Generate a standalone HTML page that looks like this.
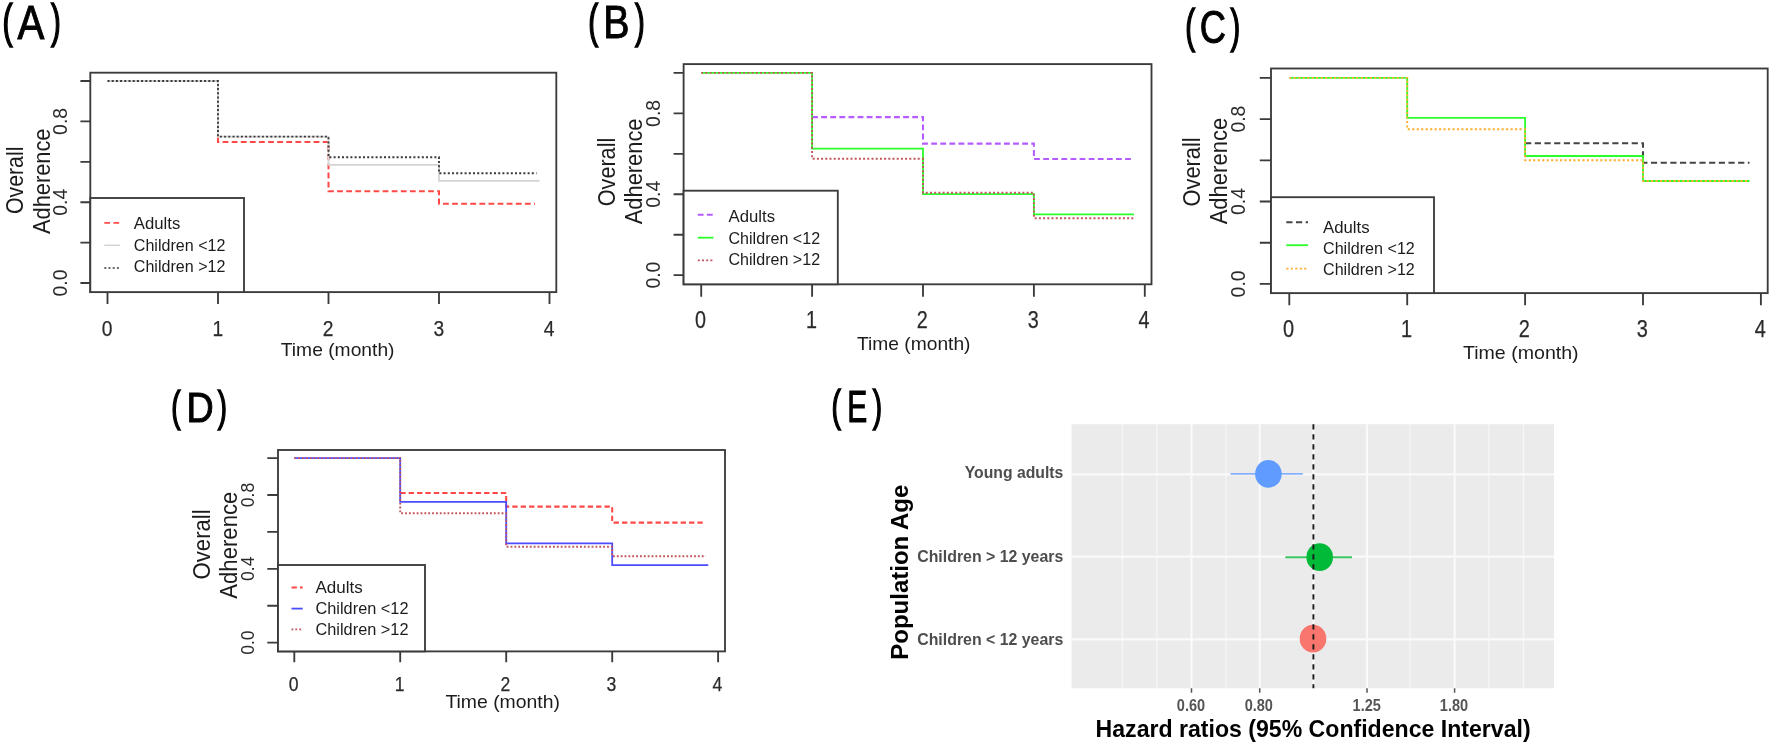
<!DOCTYPE html>
<html lang="en">
<head>
<meta charset="utf-8">
<title>Adherence figure</title>
<style>
html,body{margin:0;padding:0;background:#fff;}
body{width:1772px;height:745px;overflow:hidden;}
svg{display:block;font-family:"Liberation Sans", Arial, sans-serif;}
</style>
</head>
<body>
<svg width="1772" height="745" viewBox="0 0 1772 745">
<defs><filter id="soft" x="0" y="0" width="1772" height="745" filterUnits="userSpaceOnUse"><feGaussianBlur stdDeviation="0.65"/></filter></defs>
<rect width="1772" height="745" fill="#fff"/>
<g filter="url(#soft)">
<g>
<path d="M218 137.5V142H328.5V191.3H439V203.7H535" fill="none" stroke="#ff4a4a" stroke-width="2.05" stroke-dasharray="5.80 3.30"/>
<path d="M107.5 81.0 H218.0 V136.6 H328.5 V164.8 H439.0 V180.8 H539.5" fill="none" stroke="#d4d4d4" stroke-width="1.8"/>
<path d="M107.5 81.0 H218.0 V136.6 H328.5 V157.3 H439.0 V173.3 H536.5" fill="none" stroke="#3a3a3a" stroke-width="1.9" stroke-dasharray="2.00 2.20"/>
<rect x="90.3" y="72.7" width="466.0" height="219.4" fill="none" stroke="#3a3a3a" stroke-width="1.85"/>
<path d="M80.4 81.0H90.3M80.4 121.4H90.3M80.4 161.8H90.3M80.4 202.2H90.3M80.4 242.6H90.3M80.4 283.0H90.3M107.5 292.1V304.0M218.0 292.1V304.0M328.5 292.1V304.0M439.0 292.1V304.0M549.5 292.1V304.0" stroke="#3a3a3a" stroke-width="1.85" fill="none"/>
<text x="107.2" y="335.6" font-size="22.6" text-anchor="middle" fill="#2b2b2b" textLength="10.7" stroke="#2b2b2b" stroke-width="0.25" lengthAdjust="spacingAndGlyphs">0</text>
<text x="217.8" y="335.6" font-size="22.6" text-anchor="middle" fill="#2b2b2b" textLength="10.7" stroke="#2b2b2b" stroke-width="0.25" lengthAdjust="spacingAndGlyphs">1</text>
<text x="328.2" y="335.6" font-size="22.6" text-anchor="middle" fill="#2b2b2b" textLength="10.7" stroke="#2b2b2b" stroke-width="0.25" lengthAdjust="spacingAndGlyphs">2</text>
<text x="438.8" y="335.6" font-size="22.6" text-anchor="middle" fill="#2b2b2b" textLength="10.7" stroke="#2b2b2b" stroke-width="0.25" lengthAdjust="spacingAndGlyphs">3</text>
<text x="549.2" y="335.6" font-size="22.6" text-anchor="middle" fill="#2b2b2b" textLength="10.7" stroke="#2b2b2b" stroke-width="0.25" lengthAdjust="spacingAndGlyphs">4</text>
<text transform="translate(66.6 283.0) rotate(-90)" font-size="19.8" text-anchor="middle" fill="#2b2b2b" textLength="27" lengthAdjust="spacingAndGlyphs">0.0</text>
<text transform="translate(66.6 202.2) rotate(-90)" font-size="19.8" text-anchor="middle" fill="#2b2b2b" textLength="27" lengthAdjust="spacingAndGlyphs">0.4</text>
<text transform="translate(66.6 121.4) rotate(-90)" font-size="19.8" text-anchor="middle" fill="#2b2b2b" textLength="27" lengthAdjust="spacingAndGlyphs">0.8</text>
<text transform="translate(22.8 180.3) rotate(-90)" font-size="24" text-anchor="middle" fill="#1c1c1c" textLength="67.5" lengthAdjust="spacingAndGlyphs">Overall</text>
<text transform="translate(49.5 181.3) rotate(-90)" font-size="24" text-anchor="middle" fill="#1c1c1c" textLength="105.5" lengthAdjust="spacingAndGlyphs">Adherence</text>
<text x="280.8" y="355.8" font-size="18.5" fill="#1c1c1c" textLength="113.7" lengthAdjust="spacingAndGlyphs">Time (month)</text>
<rect x="90.3" y="198" width="153.7" height="94.1" fill="#fff" stroke="#3a3a3a" stroke-width="1.85"/>
<path d="M104.3 222.8H119.8" stroke="#ff4a4a" stroke-width="1.74" stroke-dasharray="5.80 3.30" fill="none"/>
<text x="133.8" y="229.4" font-size="15.8" fill="#1c1c1c" textLength="46.5" lengthAdjust="spacingAndGlyphs">Adults</text>
<path d="M104.3 245.3H119.8" stroke="#d4d4d4" stroke-width="1.53" fill="none"/>
<text x="133.8" y="250.9" font-size="15.8" fill="#1c1c1c" textLength="91.6" lengthAdjust="spacingAndGlyphs">Children &lt;12</text>
<path d="M104.3 268H119.8" stroke="#3a3a3a" stroke-width="1.61" stroke-dasharray="2.00 2.20" fill="none"/>
<text x="133.8" y="272.1" font-size="15.8" fill="#1c1c1c" textLength="91.6" lengthAdjust="spacingAndGlyphs">Children &gt;12</text>
</g>
<g>
<path d="M812.1 117.1H923V143.6H1033.9V159H1134" fill="none" stroke="#b45cff" stroke-width="2.05" stroke-dasharray="5.80 3.30"/>
<path d="M701.2 72.9 H812.1 V148.6 H923.0 V194.2 H1033.9 V214.4 H1134.0" fill="none" stroke="#2bff2b" stroke-width="1.8"/>
<path d="M701.2 72.9 H812.1 V158.8 H923.0 V192.7 H1033.9 V218.2 H1134.0" fill="none" stroke="#c2555c" stroke-width="1.9" stroke-dasharray="2.00 2.20"/>
<rect x="683.6" y="64.1" width="467.9" height="220.2" fill="none" stroke="#3a3a3a" stroke-width="1.85"/>
<path d="M673.6 72.9H683.6M673.6 113.4H683.6M673.6 153.8H683.6M673.6 194.2H683.6M673.6 234.7H683.6M673.6 275.1H683.6M701.2 284.3V296.7M812.1 284.3V296.7M923.0 284.3V296.7M1033.9 284.3V296.7M1144.8 284.3V296.7" stroke="#3a3a3a" stroke-width="1.85" fill="none"/>
<text x="700.5" y="327.6" font-size="23.2" text-anchor="middle" fill="#2b2b2b" textLength="11.0" stroke="#2b2b2b" stroke-width="0.25" lengthAdjust="spacingAndGlyphs">0</text>
<text x="811.4" y="327.6" font-size="23.2" text-anchor="middle" fill="#2b2b2b" textLength="11.0" stroke="#2b2b2b" stroke-width="0.25" lengthAdjust="spacingAndGlyphs">1</text>
<text x="922.3" y="327.6" font-size="23.2" text-anchor="middle" fill="#2b2b2b" textLength="11.0" stroke="#2b2b2b" stroke-width="0.25" lengthAdjust="spacingAndGlyphs">2</text>
<text x="1033.2" y="327.6" font-size="23.2" text-anchor="middle" fill="#2b2b2b" textLength="11.0" stroke="#2b2b2b" stroke-width="0.25" lengthAdjust="spacingAndGlyphs">3</text>
<text x="1144.1" y="327.6" font-size="23.2" text-anchor="middle" fill="#2b2b2b" textLength="11.0" stroke="#2b2b2b" stroke-width="0.25" lengthAdjust="spacingAndGlyphs">4</text>
<text transform="translate(660.2 275.1) rotate(-90)" font-size="19.8" text-anchor="middle" fill="#2b2b2b" textLength="27" lengthAdjust="spacingAndGlyphs">0.0</text>
<text transform="translate(660.2 194.2) rotate(-90)" font-size="19.8" text-anchor="middle" fill="#2b2b2b" textLength="27" lengthAdjust="spacingAndGlyphs">0.4</text>
<text transform="translate(660.2 113.4) rotate(-90)" font-size="19.8" text-anchor="middle" fill="#2b2b2b" textLength="27" lengthAdjust="spacingAndGlyphs">0.8</text>
<text transform="translate(614.9 172) rotate(-90)" font-size="23.5" text-anchor="middle" fill="#1c1c1c" textLength="68.5" lengthAdjust="spacingAndGlyphs">Overall</text>
<text transform="translate(642.4 171.4) rotate(-90)" font-size="23.5" text-anchor="middle" fill="#1c1c1c" textLength="105.8" lengthAdjust="spacingAndGlyphs">Adherence</text>
<text x="857" y="350" font-size="18.5" fill="#1c1c1c" textLength="113.5" lengthAdjust="spacingAndGlyphs">Time (month)</text>
<rect x="683.6" y="190.7" width="154.2" height="93.6" fill="#fff" stroke="#3a3a3a" stroke-width="1.85"/>
<path d="M697.8 214.7H713.5" stroke="#b45cff" stroke-width="2.05" stroke-dasharray="5.80 3.30" fill="none"/>
<text x="728.5" y="222.1" font-size="15.8" fill="#1c1c1c" textLength="46.5" lengthAdjust="spacingAndGlyphs">Adults</text>
<path d="M697.8 237.7H713.5" stroke="#2bff2b" stroke-width="1.80" fill="none"/>
<text x="728.5" y="243.5" font-size="15.8" fill="#1c1c1c" textLength="91.6" lengthAdjust="spacingAndGlyphs">Children &lt;12</text>
<path d="M697.8 260.4H713.5" stroke="#c2555c" stroke-width="1.90" stroke-dasharray="2.00 2.20" fill="none"/>
<text x="728.5" y="264.8" font-size="15.8" fill="#1c1c1c" textLength="91.6" lengthAdjust="spacingAndGlyphs">Children &gt;12</text>
</g>
<g>
<path d="M1525.1 143.3H1643V162.8H1749.5" fill="none" stroke="#444" stroke-width="2.05" stroke-dasharray="6.18 3.51"/>
<path d="M1289.3 77.9 H1407.2 V117.9 H1525.1 V156.0 H1643.0 V181.0 H1749.5" fill="none" stroke="#2bff2b" stroke-width="1.8"/>
<path d="M1289.3 77.9 H1407.2 V129.3 H1525.1 V160.3 H1643.0 V181.0 H1749.5" fill="none" stroke="#ffae2e" stroke-width="1.9" stroke-dasharray="2.13 2.34"/>
<rect x="1271" y="68.5" width="496.7" height="224.6" fill="none" stroke="#3a3a3a" stroke-width="1.85"/>
<path d="M1259.8 77.9H1271M1259.8 119.1H1271M1259.8 160.3H1271M1259.8 201.5H1271M1259.8 242.7H1271M1259.8 283.9H1271M1289.3 293.1V305.2M1407.2 293.1V305.2M1525.1 293.1V305.2M1643.0 293.1V305.2M1760.9 293.1V305.2" stroke="#3a3a3a" stroke-width="1.85" fill="none"/>
<text x="1288.6" y="337.2" font-size="23.4" text-anchor="middle" fill="#2b2b2b" textLength="11.1" stroke="#2b2b2b" stroke-width="0.25" lengthAdjust="spacingAndGlyphs">0</text>
<text x="1406.5" y="337.2" font-size="23.4" text-anchor="middle" fill="#2b2b2b" textLength="11.1" stroke="#2b2b2b" stroke-width="0.25" lengthAdjust="spacingAndGlyphs">1</text>
<text x="1524.4" y="337.2" font-size="23.4" text-anchor="middle" fill="#2b2b2b" textLength="11.1" stroke="#2b2b2b" stroke-width="0.25" lengthAdjust="spacingAndGlyphs">2</text>
<text x="1642.3" y="337.2" font-size="23.4" text-anchor="middle" fill="#2b2b2b" textLength="11.1" stroke="#2b2b2b" stroke-width="0.25" lengthAdjust="spacingAndGlyphs">3</text>
<text x="1760.2" y="337.2" font-size="23.4" text-anchor="middle" fill="#2b2b2b" textLength="11.1" stroke="#2b2b2b" stroke-width="0.25" lengthAdjust="spacingAndGlyphs">4</text>
<text transform="translate(1245.4 283.9) rotate(-90)" font-size="19.8" text-anchor="middle" fill="#2b2b2b" textLength="27" lengthAdjust="spacingAndGlyphs">0.0</text>
<text transform="translate(1245.4 201.5) rotate(-90)" font-size="19.8" text-anchor="middle" fill="#2b2b2b" textLength="27" lengthAdjust="spacingAndGlyphs">0.4</text>
<text transform="translate(1245.4 119.1) rotate(-90)" font-size="19.8" text-anchor="middle" fill="#2b2b2b" textLength="27" lengthAdjust="spacingAndGlyphs">0.8</text>
<text transform="translate(1199.6 171.9) rotate(-90)" font-size="23.5" text-anchor="middle" fill="#1c1c1c" textLength="69" lengthAdjust="spacingAndGlyphs">Overall</text>
<text transform="translate(1227.4 171.1) rotate(-90)" font-size="23.5" text-anchor="middle" fill="#1c1c1c" textLength="106.5" lengthAdjust="spacingAndGlyphs">Adherence</text>
<text x="1463" y="358.7" font-size="18.5" fill="#1c1c1c" textLength="115.6" lengthAdjust="spacingAndGlyphs">Time (month)</text>
<rect x="1271" y="197.2" width="163.0" height="95.9" fill="#fff" stroke="#3a3a3a" stroke-width="1.85"/>
<path d="M1286.3 222.2H1308" stroke="#444" stroke-width="2.05" stroke-dasharray="6.18 3.51" fill="none"/>
<text x="1323.0" y="232.6" font-size="15.8" fill="#1c1c1c" textLength="46.6" lengthAdjust="spacingAndGlyphs">Adults</text>
<path d="M1286.3 245.2H1308" stroke="#2bff2b" stroke-width="1.80" fill="none"/>
<text x="1323.0" y="253.8" font-size="15.8" fill="#1c1c1c" textLength="91.8" lengthAdjust="spacingAndGlyphs">Children &lt;12</text>
<path d="M1286.3 268.6H1308" stroke="#ffae2e" stroke-width="1.90" stroke-dasharray="2.13 2.34" fill="none"/>
<text x="1323.0" y="275.0" font-size="15.8" fill="#1c1c1c" textLength="91.8" lengthAdjust="spacingAndGlyphs">Children &gt;12</text>
</g>
<g>
<path d="M400.3 492.9H506.2V506.6H612.2V522.6H705.8" fill="none" stroke="#ff4a4a" stroke-width="2.05" stroke-dasharray="5.34 3.04"/>
<path d="M294.3 458.1 H400.2 V501.9 H506.2 V543.3 H612.2 V565.2 H708.3" fill="none" stroke="#4d4dff" stroke-width="1.8"/>
<path d="M294.3 458.1 H400.2 V513.3 H506.2 V546.8 H612.2 V556.3 H705.8" fill="none" stroke="#c2555c" stroke-width="1.9" stroke-dasharray="1.84 2.02"/>
<rect x="278" y="450" width="447.0" height="201.4" fill="none" stroke="#3a3a3a" stroke-width="1.85"/>
<path d="M267.3 458.1H278M267.3 495.0H278M267.3 531.9H278M267.3 568.8H278M267.3 605.7H278M267.3 642.6H278M294.3 651.4V662.2M400.2 651.4V662.2M506.2 651.4V662.2M612.2 651.4V662.2M718.1 651.4V662.2" stroke="#3a3a3a" stroke-width="1.85" fill="none"/>
<text x="293.6" y="691.2" font-size="20.8" text-anchor="middle" fill="#2b2b2b" textLength="9.8" stroke="#2b2b2b" stroke-width="0.25" lengthAdjust="spacingAndGlyphs">0</text>
<text x="399.6" y="691.2" font-size="20.8" text-anchor="middle" fill="#2b2b2b" textLength="9.8" stroke="#2b2b2b" stroke-width="0.25" lengthAdjust="spacingAndGlyphs">1</text>
<text x="505.5" y="691.2" font-size="20.8" text-anchor="middle" fill="#2b2b2b" textLength="9.8" stroke="#2b2b2b" stroke-width="0.25" lengthAdjust="spacingAndGlyphs">2</text>
<text x="611.5" y="691.2" font-size="20.8" text-anchor="middle" fill="#2b2b2b" textLength="9.8" stroke="#2b2b2b" stroke-width="0.25" lengthAdjust="spacingAndGlyphs">3</text>
<text x="717.4" y="691.2" font-size="20.8" text-anchor="middle" fill="#2b2b2b" textLength="9.8" stroke="#2b2b2b" stroke-width="0.25" lengthAdjust="spacingAndGlyphs">4</text>
<text transform="translate(254 642.6) rotate(-90)" font-size="17.8" text-anchor="middle" fill="#2b2b2b" textLength="24.5" lengthAdjust="spacingAndGlyphs">0.0</text>
<text transform="translate(254 568.8) rotate(-90)" font-size="17.8" text-anchor="middle" fill="#2b2b2b" textLength="24.5" lengthAdjust="spacingAndGlyphs">0.4</text>
<text transform="translate(254 495.0) rotate(-90)" font-size="17.8" text-anchor="middle" fill="#2b2b2b" textLength="24.5" lengthAdjust="spacingAndGlyphs">0.8</text>
<text transform="translate(209.5 544.4) rotate(-90)" font-size="23.5" text-anchor="middle" fill="#1c1c1c" textLength="70" lengthAdjust="spacingAndGlyphs">Overall</text>
<text transform="translate(236.8 545.2) rotate(-90)" font-size="23.5" text-anchor="middle" fill="#1c1c1c" textLength="107" lengthAdjust="spacingAndGlyphs">Adherence</text>
<text x="445.4" y="708" font-size="18.5" fill="#1c1c1c" textLength="114.6" lengthAdjust="spacingAndGlyphs">Time (month)</text>
<rect x="278" y="565" width="147.0" height="86.4" fill="#fff" stroke="#3a3a3a" stroke-width="1.85"/>
<path d="M291.5 587.4H302.7" stroke="#ff4a4a" stroke-width="2.05" stroke-dasharray="5.34 3.04" fill="none"/>
<text x="315.5" y="592.8" font-size="15.8" fill="#1c1c1c" textLength="47.2" lengthAdjust="spacingAndGlyphs">Adults</text>
<path d="M291.5 608.6H302.7" stroke="#4d4dff" stroke-width="1.80" fill="none"/>
<text x="315.5" y="614.0" font-size="15.8" fill="#1c1c1c" textLength="93.0" lengthAdjust="spacingAndGlyphs">Children &lt;12</text>
<path d="M291.5 629.4H302.7" stroke="#c2555c" stroke-width="1.90" stroke-dasharray="1.84 2.02" fill="none"/>
<text x="315.5" y="635.2" font-size="15.8" fill="#1c1c1c" textLength="93.0" lengthAdjust="spacingAndGlyphs">Children &gt;12</text>
</g>
<text fill="#000" stroke="#000"><tspan x="2.55" y="37.15" font-size="45.69" stroke-width="1.7" textLength="10.08" lengthAdjust="spacingAndGlyphs">(</tspan><tspan x="17.52" y="39.10" font-size="47.61" stroke-width="1.0" textLength="26.83" lengthAdjust="spacingAndGlyphs">A</tspan><tspan x="51.05" y="37.15" font-size="45.69" stroke-width="1.7" textLength="9.76" lengthAdjust="spacingAndGlyphs">)</tspan></text>
<text fill="#000" stroke="#000"><tspan x="588.26" y="37.15" font-size="45.69" stroke-width="1.7" textLength="9.97" lengthAdjust="spacingAndGlyphs">(</tspan><tspan x="603.28" y="38.20" font-size="46.30" stroke-width="1.0" textLength="26.25" lengthAdjust="spacingAndGlyphs">B</tspan><tspan x="635.05" y="37.15" font-size="45.69" stroke-width="1.7" textLength="9.76" lengthAdjust="spacingAndGlyphs">)</tspan></text>
<text fill="#000" stroke="#000"><tspan x="1185.27" y="41.55" font-size="45.69" stroke-width="1.7" textLength="9.86" lengthAdjust="spacingAndGlyphs">(</tspan><tspan x="1199.68" y="43.24" font-size="46.13" stroke-width="1.0" textLength="26.19" lengthAdjust="spacingAndGlyphs">C</tspan><tspan x="1230.54" y="41.55" font-size="45.69" stroke-width="1.7" textLength="9.66" lengthAdjust="spacingAndGlyphs">)</tspan></text>
<text fill="#000" stroke="#000"><tspan x="171.18" y="420.91" font-size="43.03" stroke-width="1.7" textLength="9.25" lengthAdjust="spacingAndGlyphs">(</tspan><tspan x="186.42" y="421.90" font-size="42.83" stroke-width="1.0" textLength="27.22" lengthAdjust="spacingAndGlyphs">D</tspan><tspan x="217.74" y="420.91" font-size="43.03" stroke-width="1.7" textLength="9.17" lengthAdjust="spacingAndGlyphs">)</tspan></text>
<text fill="#000" stroke="#000"><tspan x="831.55" y="420.71" font-size="43.99" stroke-width="1.7" textLength="9.39" lengthAdjust="spacingAndGlyphs">(</tspan><tspan x="847.24" y="421.50" font-size="43.99" stroke-width="1.0" textLength="20.03" lengthAdjust="spacingAndGlyphs">E</tspan><tspan x="872.64" y="420.71" font-size="43.99" stroke-width="1.7" textLength="9.30" lengthAdjust="spacingAndGlyphs">)</tspan></text>
<g>
<rect x="1071.5" y="424.2" width="482.5" height="264.1" fill="#ebebeb"/>
<path d="M1122.4 424.2V688.3M1156.8 424.2V688.3M1226 424.2V688.3M1410 424.2V688.3M1488.9 424.2V688.3M1523.5 424.2V688.3" stroke="#f6f6f6" stroke-width="1.4" fill="none"/>
<path d="M1191.5 424.2V688.3M1259.7 424.2V688.3M1313.4 424.2V688.3M1367 424.2V688.3M1454.6 424.2V688.3" stroke="#fafafa" stroke-width="2.1" fill="none"/>
<path d="M1071.5 474.3H1554M1071.5 556.6H1554M1071.5 639.4H1554" stroke="#fafafa" stroke-width="2.2" fill="none"/>
<path d="M1230.5 473.9H1302.8" stroke="#84b0ff" stroke-width="1.9"/>
<path d="M1285.4 557.2H1352" stroke="#3cc764" stroke-width="1.9"/>
<ellipse cx="1268.4" cy="473.9" rx="13.3" ry="13.9" fill="#619cff"/>
<ellipse cx="1319.7" cy="557.2" rx="13.3" ry="13.9" fill="#00ba38"/>
<ellipse cx="1313" cy="638.7" rx="13.3" ry="13.9" fill="#f8766d"/>
<path d="M1313.4 424.2V688.3" stroke="#1a1a1a" stroke-width="1.9" stroke-dasharray="5.4 4.6"/>
<path d="M1191.5 688.3V692.8M1259.7 688.3V692.8M1367 688.3V692.8M1454.6 688.3V692.8" stroke="#555" stroke-width="1.5"/>
<text x="1191" y="711" font-size="16.4" font-weight="bold" text-anchor="middle" fill="#555" textLength="28.3" lengthAdjust="spacingAndGlyphs">0.60</text>
<text x="1258.8" y="711" font-size="16.4" font-weight="bold" text-anchor="middle" fill="#555" textLength="28.3" lengthAdjust="spacingAndGlyphs">0.80</text>
<text x="1366.7" y="711" font-size="16.4" font-weight="bold" text-anchor="middle" fill="#555" textLength="28.3" lengthAdjust="spacingAndGlyphs">1.25</text>
<text x="1454" y="711" font-size="16.4" font-weight="bold" text-anchor="middle" fill="#555" textLength="28.3" lengthAdjust="spacingAndGlyphs">1.80</text>
<text x="964.8" y="478.4" font-size="16.7" font-weight="bold" fill="#4d4d4d" textLength="98.5" lengthAdjust="spacingAndGlyphs">Young adults</text>
<text x="917.2" y="562.4" font-size="16.7" font-weight="bold" fill="#4d4d4d" textLength="146.1" lengthAdjust="spacingAndGlyphs">Children &gt; 12 years</text>
<text x="917.2" y="645.2" font-size="16.7" font-weight="bold" fill="#4d4d4d" textLength="146.1" lengthAdjust="spacingAndGlyphs">Children &lt; 12 years</text>
<text transform="translate(908 572.2) rotate(-90)" font-size="23.3" font-weight="bold" text-anchor="middle" fill="#000" textLength="175" lengthAdjust="spacingAndGlyphs">Population Age</text>
<text x="1095.6" y="736.6" font-size="23.4" font-weight="bold" fill="#000" textLength="435" lengthAdjust="spacingAndGlyphs">Hazard ratios (95% Confidence Interval)</text>
</g>
</g>
</svg>
</body>
</html>
